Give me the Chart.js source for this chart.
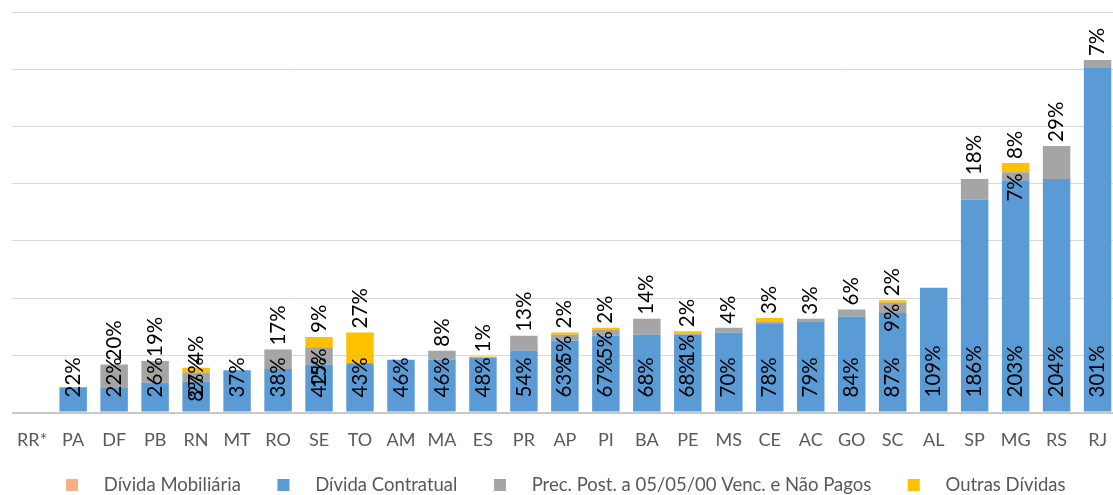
<!DOCTYPE html>
<html><head><meta charset="utf-8">
<script src="https://cdn.jsdelivr.net/npm/chart.js@4.4.1/dist/chart.umd.min.js"></script>
<style>
html,body{margin:0;padding:0;background:#fff;overflow:hidden;width:1113px;height:495px}
#wrap{position:relative;width:1124px;height:504px}
</style></head><body>
<div id="wrap"><canvas id="c" width="1124" height="504"></canvas></div>
<script>
const categories = ['RR*','PA','DF','PB','RN','MT','RO','SE','TO','AM','MA','ES','PR','AP','PI','BA','PE','MS','CE','AC','GO','SC','AL','SP','MG','RS','RJ'];
const divMobiliaria = [0,0,0,0,0,0,0,0,0,0,0,0,0,0,0,0,0,0,0,0,0,0,0,0,0,0,0];
const divContratual = [0,22,22,26,27,37,38,42,43,46,46,48,54,63,67,68,68,70,78,79,84,87,109,186,203,204,301];
const precPost      = [0,0,20,19,8,0,17,15,0,0,8,0,13,5,5,14,1,4,1.5,3,6,9,0,18,7,29,7];
const outrasDividas = [0,0,0,0,4,0,0,9,27,0,0,1,0,2,2,0,2,0,3,0,0,2,0,0,8,0,0];
const seriesNames = ['Dívida Mobiliária','Dívida Contratual','Prec. Post. a 05/05/00 Venc. e Não Pagos','Outras Dívidas'];
const seriesColors = ['#F4B183','#5B9BD5','#A5A5A5','#FFC000'];
const hiddenLabels = ['CE|2'];

function swatch(color){
  const c = document.createElement('canvas');
  c.width = 60; c.height = 12;
  const x = c.getContext('2d'); x.fillStyle = color; x.fillRect(29,0,12,12);
  return c;
}
const swatches = seriesColors.map(swatch);

const segLabels = {
  id: 'segLabels',
  afterDatasetsDraw(chart){
    const ctx = chart.ctx;
    const dsets = chart.data.datasets;
    ctx.save();
    ctx.font = '20.5px Lato';
    ctx.fillStyle = '#000';
    ctx.textBaseline = 'middle';
    for (let i = 0; i < categories.length; i++){
      let top = -1;
      dsets.forEach((ds, d) => { if (ds.data[i] > 0) top = d; });
      dsets.forEach((ds, d) => {
        const v = ds.data[i];
        if (!(v > 0) || hiddenLabels.includes(categories[i] + '|' + d)) return;
        const el = chart.getDatasetMeta(d).data[i];
        const txt = Math.round(v) + '%';
        let ay, align;
        if (d === 1) { ay = el.base - 14; align = 'left'; }
        else if (d === top) { ay = el.y - 4; align = 'left'; }
        else { ay = el.y + 1; align = 'right'; }
        ctx.save();
        ctx.translate(el.x, ay);
        ctx.rotate(-Math.PI / 2);
        ctx.textAlign = align;
        ctx.fillText(txt, 0, 0);
        ctx.restore();
      });
    }
    ctx.restore();
  }
};

const legendShift = {
  id: 'legendShift',
  afterLayout(chart){
    if (chart.legend) { chart.legend.left -= 14; chart.legend.right -= 14; }
  }
};

const values = [divMobiliaria, divContratual, precPost, outrasDividas];
new Chart(document.getElementById('c'), {
  type: 'bar',
  data: {
    labels: categories,
    datasets: values.map((v, i) => ({
      label: seriesNames[i],
      data: v,
      backgroundColor: seriesColors[i],
      borderWidth: 0,
      categoryPercentage: 1,
      barPercentage: 0.67
    }))
  },
  options: {
    responsive: false,
    devicePixelRatio: 1,
    animation: false,
    layout: { padding: { left: 10, right: 1, top: 12, bottom: 0 } },
    scales: {
      x: {
        stacked: true,
        grid: { display: false, drawTicks: false },
        border: { display: false },
        ticks: { color: '#595959', font: { family: 'Lato', size: 18 }, padding: 17, maxRotation: 0, autoSkip: false },
        afterFit(scale){ scale.height = 53; }
      },
      y: {
        stacked: true,
        min: 0, max: 350,
        ticks: { display: false, stepSize: 50 },
        border: { display: false },
        grid: {
          drawTicks: false,
          color: ctx => ctx.tick && ctx.tick.value === 0 ? '#c8c8c8' : '#d9d9d9',
          lineWidth: ctx => ctx.tick && ctx.tick.value === 0 ? 2 : 1
        },
        afterFit(scale){ scale.width = 0; }
      }
    },
    plugins: {
      tooltip: { enabled: false },
      legend: {
        position: 'bottom',
        labels: {
          usePointStyle: true,
          pointStyleWidth: 55,
          padding: 10,
          color: '#595959',
          font: { family: 'Lato', size: 18.5 },
          generateLabels(chart){
            const items = Chart.defaults.plugins.legend.labels.generateLabels(chart);
            items.forEach((it, i) => { it.pointStyle = swatches[i]; it.hidden = false; });
            return items;
          }
        }
      }
    }
  },
  plugins: [segLabels, legendShift]
});
</script>
</body></html>
